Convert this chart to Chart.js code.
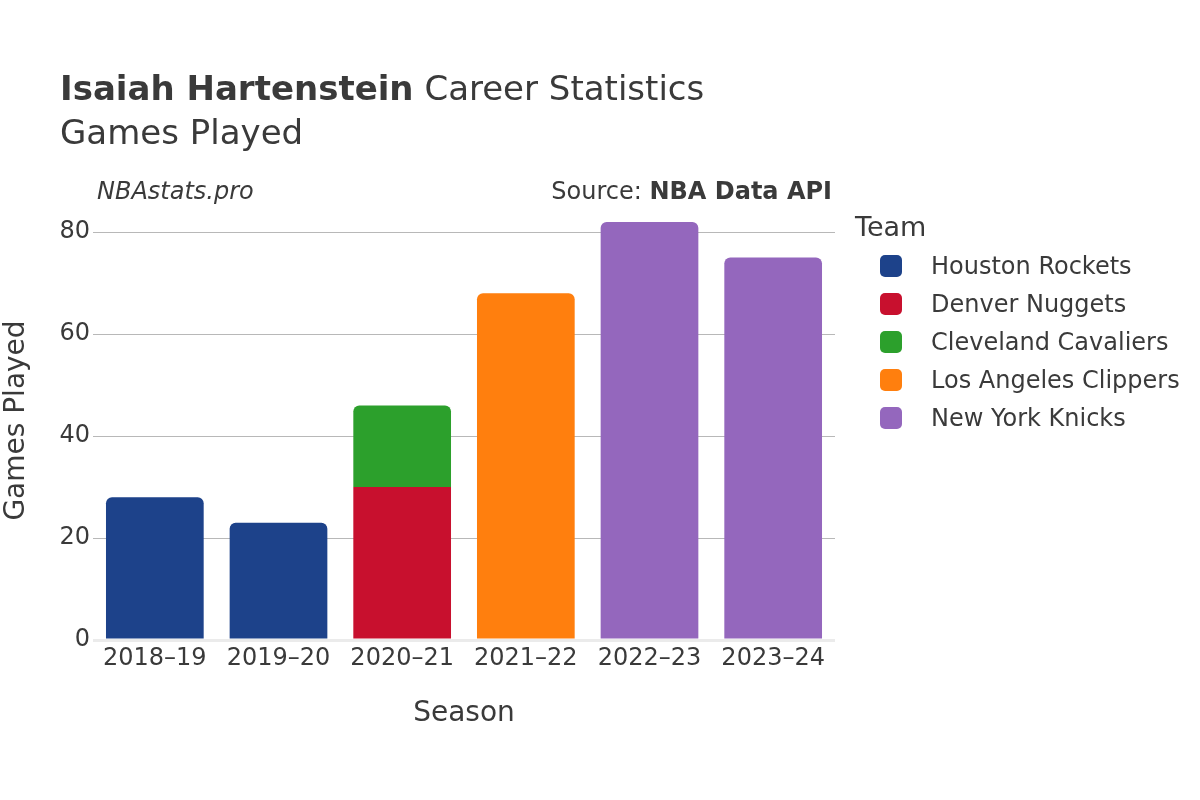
<!DOCTYPE html>
<html>
<head>
<meta charset="utf-8">
<script src="https://cdn.jsdelivr.net/npm/chart.js@4"></script>
<style>
  body { margin: 0; background: #fff; font-family: "DejaVu Sans", sans-serif; color: #3a3a3a; }
  #wrap { position: relative; width: 1200px; height: 800px; overflow: hidden; }
  #c { position: absolute; left: 0; top: 0; }
  .t { position: absolute; white-space: nowrap; }
  #title { left: 60px; top: 66px; font-size: 34px; line-height: 44px; }
  #source { right: 368px; top: 176px; font-size: 24px; line-height: 30px; }
  #mark { left: 97px; top: 176px; font-size: 24px; line-height: 30px; font-style: italic; }
  #legend { left: 855px; top: 209px; }
  #legend .lt { font-size: 27px; line-height: 36px; margin-bottom: 2px; }
  #legend .li { position: relative; height: 38px; font-size: 24px; line-height: 38px; padding-left: 76px; }
  #legend .sw { position: absolute; left: 25px; top: 8px; width: 22px; height: 22px; border-radius: 5px; }
</style>
</head>
<body>
<div id="wrap">
  <canvas id="c" width="1200" height="800"></canvas>
  <div class="t" id="title"><b>Isaiah Hartenstein</b> Career Statistics<br>Games Played</div>
  <div class="t" id="mark">NBAstats.pro</div>
  <div class="t" id="source">Source: <b>NBA Data API</b></div>
  <div class="t" id="legend"></div>
</div>
<script>
// seasons and games played per team (null = not on that team)
var seasons = ["2018–19", "2019–20", "2020–21", "2021–22", "2022–23", "2023–24"];
var teams = ["Houston Rockets", "Denver Nuggets", "Cleveland Cavaliers", "Los Angeles Clippers", "New York Knicks"];
var teamColors = ["#1d428a", "#c8102e", "#2ca02c", "#ff7f0e", "#9467bd"];
var houston   = [28, 23, null, null, null, null];
var denver    = [null, null, 30, null, null, null];
var cleveland = [null, null, 16, null, null, null];
var clippers  = [null, null, null, 68, null, null];
var knicks    = [null, null, null, null, 82, 75];
var yTicks = [0, 20, 40, 60, 80];

var series = [houston, denver, cleveland, clippers, knicks];
var datasets = series.map(function(d, i) {
  return {
    label: teams[i],
    data: d,
    backgroundColor: teamColors[i],
    borderRadius: 6,
    borderSkipped: "start",
    barPercentage: 0.79,
    categoryPercentage: 1
  };
});

// legend as html
var leg = document.getElementById("legend");
var html = '<div class="lt">Team</div>';
teams.forEach(function(t, i) {
  html += '<div class="li"><span class="sw" style="background:' + teamColors[i] + '"></span>' + t + '</div>';
});
leg.innerHTML = html;

var tickFont = { family: "DejaVu Sans", size: 24 };
var titleFont = { family: "DejaVu Sans", size: 28 };

new Chart(document.getElementById("c"), {
  type: "bar",
  data: { labels: seasons, datasets: datasets },
  options: {
    responsive: false,
    animation: false,
    layout: { padding: { left: 0, right: 365, top: 201, bottom: 60 } },
    plugins: { legend: { display: false }, tooltip: { enabled: false } },
    scales: {
      x: {
        stacked: true,
        grid: { display: false },
        border: { display: false },
        ticks: { font: tickFont, color: "#3a3a3a", padding: -4, maxRotation: 0 },
        title: { display: true, text: "Season", font: titleFont, color: "#3a3a3a", padding: { top: 0, bottom: 9 } },
        afterFit: function(s) { s.height = 100; }
      },
      y: {
        stacked: true,
        min: 0,
        max: 86.1,
        afterBuildTicks: function(s) { s.ticks = yTicks.map(function(v) { return { value: v }; }); },
        grid: {
          drawTicks: false,
          color: function(ctx) { return ctx.tick && ctx.tick.value === 0 ? "#ebebeb" : "#b8b8b8"; },
          lineWidth: function(ctx) { return ctx.tick && ctx.tick.value === 0 ? 3 : 1; }
        },
        border: { display: false },
        ticks: { font: tickFont, color: "#3a3a3a", padding: 3 },
        title: { display: true, text: "Games Played", font: titleFont, color: "#3a3a3a", padding: { top: 0, bottom: 0 } },
        afterFit: function(s) { s.width = 93; }
      }
    }
  }
});
</script>
</body>
</html>
